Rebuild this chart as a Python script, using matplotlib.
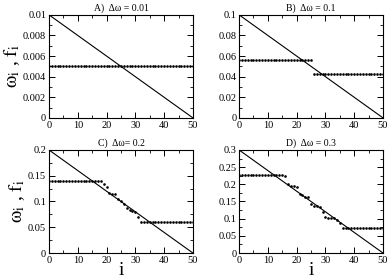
import matplotlib
matplotlib.use('Agg')
import matplotlib.pyplot as plt
import numpy as np
from matplotlib.ticker import MultipleLocator

plt.rcParams['font.family'] = ['Liberation Serif', 'DejaVu Serif']
plt.rcParams['mathtext.fontset'] = 'stix'

# oscillator index
idx = list(range(51))

# panel values
f_a = [0.005] * 51
f_b = [0.0565] * 26 + [0.043] * 25
f_c = [0.14] * 19 + [0.134, 0.128, 0.117, 0.115, 0.115, 0.104, 0.101, 0.095,
                     0.087, 0.084, 0.081, 0.079, 0.069] + [0.060] * 19
f_d = [0.226] * 16 + [0.223, 0.200, 0.196, 0.196, 0.193, 0.172, 0.170, 0.164,
                      0.162, 0.143, 0.138, 0.137, 0.135, 0.120, 0.106, 0.103,
                      0.103, 0.101, 0.097, 0.088] + [0.072] * 15

widths = [0.01, 0.1, 0.2, 0.3]
titles = ['A)  Δω = 0.01', 'B)  Δω = 0.1', 'C)  Δω= 0.2', 'D)  Δω = 0.3']
ytick_steps = [0.002, 0.02, 0.05, 0.05]

fig = plt.figure(figsize=(3.9, 2.8), dpi=100)
boxes = [[0.1256, 0.579, 0.369, 0.368], [0.613, 0.579, 0.369, 0.368],
         [0.1256, 0.0964, 0.369, 0.368], [0.613, 0.0964, 0.369, 0.368]]

for k, f in enumerate([f_a, f_b, f_c, f_d]):
    ax = fig.add_axes(boxes[k])
    w = widths[k]
    ax.plot([0, 50], [w, 0], color='black', lw=0.8)
    ax.plot(idx, f, 'o', color='black', ms=1.9, mew=0)
    ax.set_xlim(0, 50)
    ax.set_ylim(0, w)
    ax.xaxis.set_major_locator(MultipleLocator(10))
    ax.xaxis.set_minor_locator(MultipleLocator(5))
    ax.yaxis.set_major_locator(MultipleLocator(ytick_steps[k]))
    ax.yaxis.set_minor_locator(MultipleLocator(ytick_steps[k] / 2))
    ax.set_yticklabels(['{:g}'.format(round(v, 4)) for v in ax.get_yticks()])
    ax.tick_params(which='both', direction='in', top=True, right=True,
                   labelsize=7.5, pad=2)
    ax.tick_params(which='major', length=4, width=0.7)
    ax.tick_params(which='minor', length=2, width=0.6)
    for s in ax.spines.values():
        s.set_linewidth(0.8)
    ax.set_title(titles[k], fontsize=7, pad=3)
    if k in (0, 2):
        ax.set_ylabel(r'$\mathrm{\omega_i}$ , $\mathrm{f_i}$', fontsize=14, labelpad=1)
    if k in (2, 3):
        ax.set_xlabel('i', fontsize=14, labelpad=-2)

fig.savefig('out.png', dpi=100)
